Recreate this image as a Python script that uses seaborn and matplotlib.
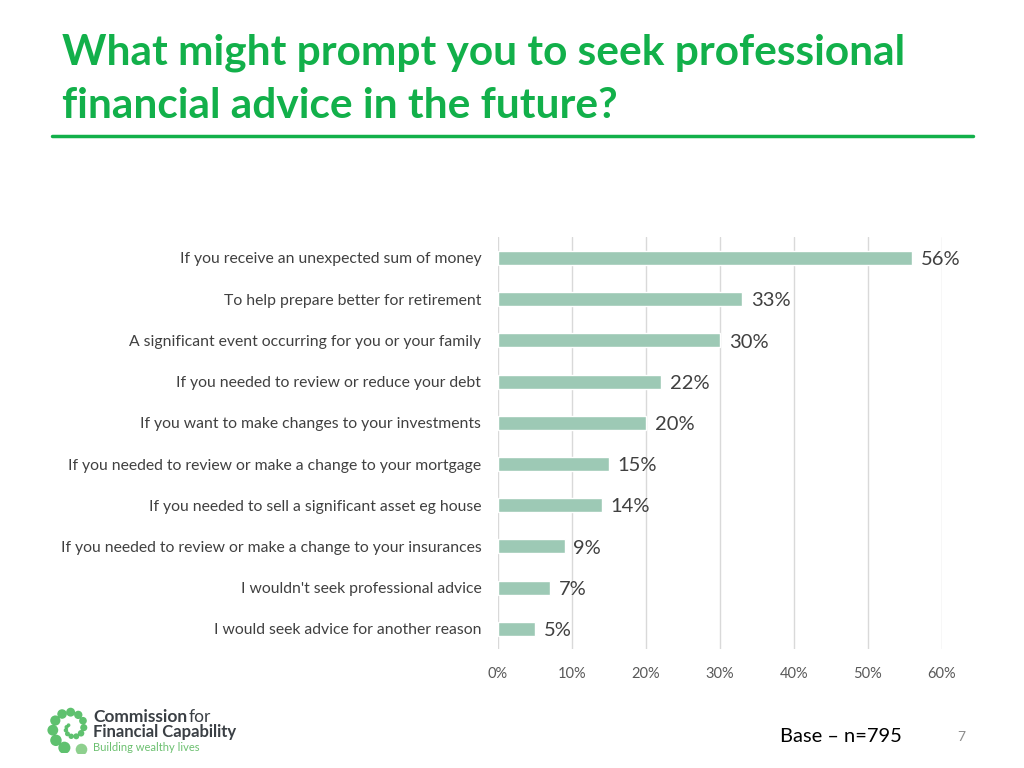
import numpy as np
import pandas as pd
import matplotlib
matplotlib.use('Agg')
import matplotlib.pyplot as plt
import seaborn as sns

# data
reasons = [
    'If you receive an unexpected sum of money',
    'To help prepare better for retirement',
    'A significant event occurring for you or your family',
    'If you needed to review or reduce your debt',
    'If you want to make changes to your investments',
    'If you needed to review or make a change to your mortgage',
    'If you needed to sell a significant asset eg house',
    'If you needed to review or make a change to your insurances',
    "I wouldn't seek professional advice",
    'I would seek advice for another reason',
]
shares = [0.56, 0.33, 0.30, 0.22, 0.20, 0.15, 0.14, 0.09, 0.07, 0.05]
x_ticks = [0.0, 0.1, 0.2, 0.3, 0.4, 0.5, 0.6]
x_tick_labels = ['0%', '10%', '20%', '30%', '40%', '50%', '60%']

title = 'What might prompt you to seek professional\nfinancial advice in the future?'
base_note = 'Base \u2013 n=795'
page_no = '7'

GREEN = '#12B04A'
BAR = '#9DC9B5'
GREY = '#404040'

sns.set_theme(style='white')
plt.rcParams['font.family'] = ['Lato', 'DejaVu Sans']

df = pd.DataFrame({'reason': reasons, 'share': shares})

fig = plt.figure(figsize=(10.24, 7.68), dpi=100)
ax = fig.add_axes([0.4863, 0.1544, 0.4336, 0.5365])

sns.barplot(data=df, x='share', y='reason', color=BAR, width=0.34,
            saturation=1, ax=ax, zorder=3)

ax.set_xlim(0, 0.6)
ax.set_xticks(x_ticks)
ax.set_xticklabels(x_tick_labels, fontsize=10.5, color='#595959')
ax.tick_params(axis='x', length=0, pad=13)
ax.tick_params(axis='y', length=0, pad=12, labelsize=11.3, labelcolor=GREY)
ax.set_xlabel('')
ax.set_ylabel('')
ax.grid(axis='x', color='#D9D9D9', lw=1, zorder=0)
for s in ax.spines.values():
    s.set_visible(False)

for i, v in enumerate(shares):
    ax.text(v + 0.012, i + 0.04, '{:.0%}'.format(v), va='center', ha='left',
            fontsize=14.5, color=GREY)

# title and rule
fig.text(0.0605, 0.957, title, fontsize=30.5, fontweight='bold',
         color=GREEN, va='top', ha='left', linespacing=1.5)
fig.add_artist(plt.Line2D([0.051, 0.95], [0.8235, 0.8235],
                          color=GREEN, lw=2.5))

# footer
fig.text(0.762, 0.041, base_note, fontsize=14.5, color='black',
         va='center', ha='left')
fig.text(0.935, 0.041, page_no, fontsize=10, color='#8C8C8C',
         va='center', ha='left')

# logo: spiral of dots and wordmark
lax = fig.add_axes([0.045, 0.015, 0.05, 0.075])
lax.set_xlim(-1.2, 1.2)
lax.set_ylim(-1.2, 1.2)
lax.set_aspect('equal')
lax.axis('off')
t = np.linspace(0, 2.6 * np.pi, 16)
r = 1.0 - t / (3.2 * np.pi)
ang = -np.pi / 2 - 0.35 - t
sizes = 70 * (1 - t / (3.0 * np.pi)) ** 2 + 6
lax.scatter(r * np.cos(ang), r * np.sin(ang), s=sizes,
            color='#4DBB5F', alpha=0.9, lw=0)
lax.scatter([0.45], [-1.0], s=70, color='#8ED08E', lw=0)

fig.text(0.091, 0.067, 'Commission', fontsize=12.5, fontweight='bold',
         color='#3A3F44', va='center', ha='left')
fig.text(0.184, 0.067, 'for', fontsize=12.5, color='#3A3F44',
         va='center', ha='left')
fig.text(0.091, 0.047, 'Financial Capability', fontsize=12,
         fontweight='bold', color='#3A3F44', va='center', ha='left')
fig.text(0.091, 0.027, 'Building wealthy lives', fontsize=8,
         color='#6CC070', va='center', ha='left')

fig.savefig('out.png', dpi=100)
